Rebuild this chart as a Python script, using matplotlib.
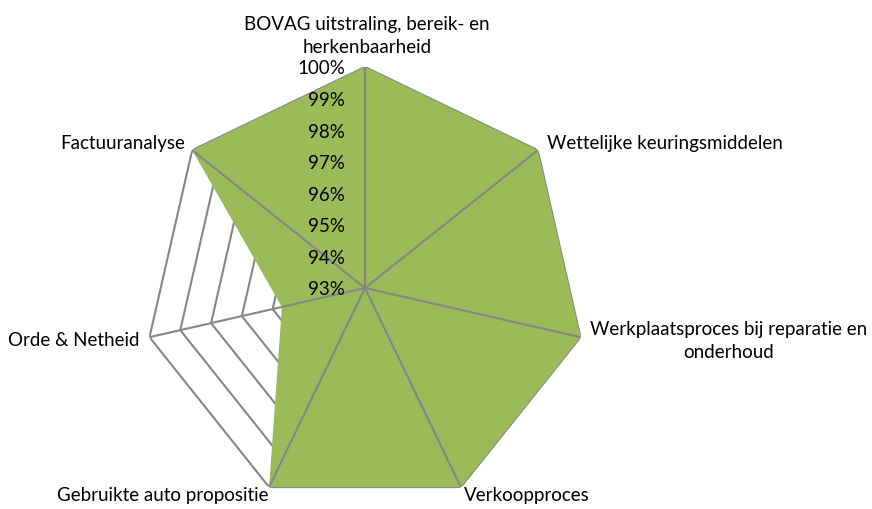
import numpy as np
import matplotlib
matplotlib.use("Agg")
import matplotlib.pyplot as plt

categories = [
    "BOVAG uitstraling, bereik- en\nherkenbaarheid",
    "Wettelijke keuringsmiddelen",
    "Werkplaatsproces bij reparatie en\nonderhoud",
    "Verkoopproces",
    "Gebruikte auto propositie",
    "Orde & Netheid",
    "Factuuranalyse",
]
values = [100, 100, 100, 100, 100, 95.7, 100]
ticks = [93, 94, 95, 96, 97, 98, 99, 100]
tick_labels = ["93%", "94%", "95%", "96%", "97%", "98%", "99%", "100%"]

plt.rcParams['font.family'] = ['Lato', 'DejaVu Sans']
fig = plt.figure(figsize=(8.72, 5.09), dpi=100)
ax = fig.add_axes([0.1651, 0.0, 0.5069, 0.8684], projection='polar')
ax.set_theta_zero_location('N')
ax.set_theta_direction(-1)
ax.set_ylim(93, 100)
ax.grid(False)
ax.spines['polar'].set_visible(False)
ax.set_xticks([])
ax.set_yticks([])
ax.patch.set_alpha(0)

n = len(categories)
theta = [2 * np.pi * i / n for i in range(n)]
theta_c = theta + [theta[0]]

grid_col = '#868686'
for t in ticks[1:]:
    ax.plot(theta_c, [t] * (n + 1), color=grid_col, lw=1.5, zorder=1)

vals_c = values + [values[0]]
ax.fill(theta_c, vals_c, color='#9BBB59', lw=0, zorder=2)

for th in theta:
    ax.plot([th, th], [93, 100], color=grid_col, lw=1.5, zorder=3)

fs = 13.5
offsets = [(2, 11), (9, 7), (10, -4), (3, -8), (-1, -8), (-10, -3), (-7, 7)]
has = ['center', 'left', 'left', 'left', 'right', 'right', 'right']
vas = ['bottom', 'center', 'center', 'center', 'center', 'center', 'center']
for th, lab, off, ha, va in zip(theta, categories, offsets, has, vas):
    ax.annotate(lab, xy=(th, 100), xytext=off, textcoords='offset pixels',
                ha=ha, va=va, multialignment='center', fontsize=fs,
                linespacing=1.45, annotation_clip=False, zorder=5)

for t, tl in zip(ticks, tick_labels):
    ax.annotate(tl, xy=(0, t), xytext=(-20, -2), textcoords='offset pixels',
                ha='right', va='center', fontsize=fs, annotation_clip=False, zorder=5)

fig.savefig('out.png', dpi=100)
